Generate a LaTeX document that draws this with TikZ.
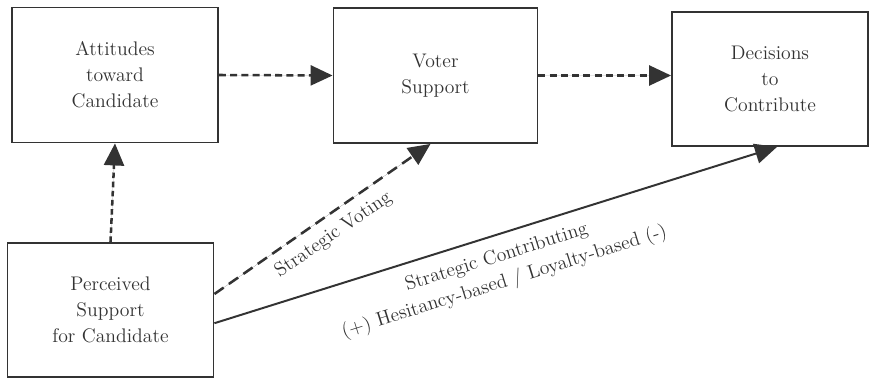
\documentclass[tikz,border=0pt]{standalone}
\usepackage{tikz}
\usetikzlibrary{arrows.meta}

\begin{document}
\begin{tikzpicture}[x=0.025cm,y=-0.025cm]

	\tikzset{box/.style={draw=black!80, line width=1.3pt, fill=white, align=center,
			text=black!80, font=\fontsize{14}{18.5}\selectfont}}
	\tikzset{tip/.style={-{Triangle[length=5.5mm,width=5mm]}, draw=black!80, fill=black!80}}
	\tikzset{dashline/.style={tip, line width=1.8pt, dash pattern=on 5pt off 3pt}}
	\tikzset{lbl/.style={text=black!80, font=\fontsize{14}{18.5}\selectfont, align=center}}

	\useasboundingbox (0,0) rectangle (876,381);

	% the four boxes
	\node[box, minimum width=5.15cm, minimum height=3.375cm] (att) at (115,75) {Attitudes\\toward\\Candidate};
	\node[box, minimum width=5.1cm, minimum height=3.375cm] (voter) at (435.5,75.5) {Voter\\Support};
	\node[box, minimum width=4.9cm, minimum height=3.35cm] (dec) at (770,79) {Decisions\\to\\Contribute};
	\node[box, minimum width=5.15cm, minimum height=3.35cm] (perc) at (110.5,310) {Perceived\\Support\\for Candidate};

	% dashed arrows between the boxes
	\draw[dashline] (att.east) -- (voter.west);
	\draw[dashline] (voter.east) -- (voter.east -| dec.west);
	\draw[dashline, dash pattern=on 4pt off 2.5pt] (perc.north) -- (att.south);

	% strategic voting
	\draw[dashline, dash pattern=on 8pt off 4.5pt] ([yshift=0.4cm]perc.east) -- ([xshift=-0.125cm]voter.south)
		node[lbl, midway, sloped, below=3pt] {Strategic Voting};

	% strategic contributing
	\draw[tip, line width=1.4pt] ([yshift=-0.33cm]perc.east) -- ([xshift=0.175cm]dec.south)
		node[lbl, pos=0.49, sloped, below=5pt] {Strategic Contributing\\(+) Hesitancy-based / Loyalty-based (-)};

\end{tikzpicture}
\end{document}
